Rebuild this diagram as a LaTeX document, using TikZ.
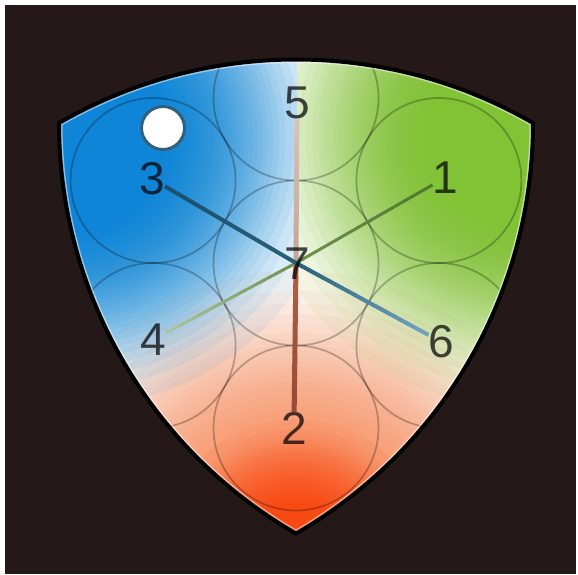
\documentclass[tikz,border=0pt]{standalone}
\usepackage{fontspec}
\setmainfont{Liberation Sans}
\usetikzlibrary{calc}
\definecolor{bgdark}{RGB}{36,24,24}
\definecolor{cblue}{RGB}{10,133,216}
\definecolor{cgreen}{RGB}{130,195,50}
\definecolor{corange}{RGB}{248,150,105}
\definecolor{cred}{RGB}{255,75,20}
\definecolor{lA}{RGB}{25,80,110}
\definecolor{lM}{RGB}{40,95,120}
\definecolor{lB}{RGB}{115,165,195}
\definecolor{gA}{RGB}{175,195,160}
\definecolor{gM}{RGB}{110,145,80}
\definecolor{gB}{RGB}{80,120,45}
\definecolor{vA}{RGB}{215,195,185}
\definecolor{vM}{RGB}{195,165,150}
\definecolor{vN}{RGB}{175,95,70}
\definecolor{vB}{RGB}{150,75,55}
\definecolor{dotline}{RGB}{50,95,125}
\tikzset{
  numlabel/.style={font=\fontsize{46}{46}\selectfont, text=black, text opacity=0.72, inner sep=0pt},
  gridcircle/.style={draw=black, draw opacity=0.26, line width=1.7pt},
}
\newcommand\gradline[5]{%
  \foreach \i in {0,...,19}{%
    \pgfmathsetmacro\pa{\i/20}%
    \pgfmathsetmacro\pb{(\i+1)/20+0.004}%
    \pgfmathsetmacro\mixv{100-(\i+0.5)*5}%
    \draw[line width=#5, color=#3!\mixv!#4] ($(#1)!\pa!(#2)$) -- ($(#1)!\pb!(#2)$);
  }%
}
% soft glow built from stacked translucent discs
\newcommand\glow[4]{%
  \foreach \k in {1,...,40}{%
    \pgfmathsetmacro\rr{#3*(1-0.7*((\k-0.5)/40)^0.4545)}%
    \fill[#1, opacity=#4] (#2) circle[radius=\rr];
  }%
}
\def\shieldpath{(TL) arc[start angle=-120,end angle=-60,radius=474] arc[start angle=0,end angle=60,radius=474] arc[start angle=120,end angle=180,radius=474] -- cycle}
\begin{document}
\begin{tikzpicture}[x=1pt,y=-1pt]
\useasboundingbox (0,0) rectangle (578,574);
\fill[white] (0,0) rectangle (578,574);
\fill[bgdark] (5,5) rectangle (576,574);
\coordinate (TL) at (59,123);
\coordinate (TR) at (533,123);
\coordinate (BV) at (296,534);
\coordinate (C7) at (296,263);
\coordinate (gb) at (75,140);
\coordinate (gg) at (520,135);
\coordinate (go) at (296,560);
\coordinate (gr) at (296,555);
\begin{scope}
  \clip \shieldpath;
  \fill[white] (0,0) rectangle (578,574);
  \glow{corange}{go}{320}{0.075}
  \glow{cred}{gr}{150}{0.063}
  \begin{scope}
    \clip (0,0) rectangle (297,574);
    \glow{cblue}{gb}{295}{0.075}
  \end{scope}
  \begin{scope}
    \clip (297,0) rectangle (578,574);
    \glow{cgreen}{gg}{300}{0.075}
  \end{scope}
  \foreach \a in {30,90,150,210,270,330}{
    \draw[gridcircle] ($(C7)+(\a:165)$) circle[radius=82.5];
  }
  \draw[gridcircle] (C7) circle[radius=82.5];
  \draw[white, opacity=0.5, line width=7pt] \shieldpath;
\end{scope}
\draw[black, line width=4pt, line join=miter] \shieldpath;
% labels
\node[numlabel] (n5) at (297,103) {5};
\node[numlabel] (n3) at (152,179) {3};
\node[numlabel] (n1) at (445,178) {1};
\node[numlabel] (n4) at (153,340) {4};
\node[numlabel] (n6) at (441,342) {6};
\node[numlabel] (n2) at (294,428) {2};
\path (n3) -- (n6) coordinate[pos=0] (s36) coordinate[pos=1] (e36);
\path (n4) -- (n1) coordinate[pos=0] (s41) coordinate[pos=1] (e41);
\path (n5) -- (n2) coordinate[pos=0] (s52) coordinate[pos=1] (e52);
\gradline{s52}{C7}{vA}{vM}{5pt}
\gradline{C7}{e52}{vN}{vB}{5pt}
\gradline{s41}{C7}{gA}{gM}{3pt}
\gradline{C7}{e41}{gM}{gB}{3pt}
\gradline{s36}{C7}{lA}{lM}{4pt}
\gradline{C7}{e36}{lM}{lB}{4pt}
\node[numlabel] (n7) at (297,264) {7};
\node[circle, draw=dotline, line width=3pt, fill=white, minimum size=43pt, inner sep=0pt] (dot) at (163,128) {};
\end{tikzpicture}
\end{document}
